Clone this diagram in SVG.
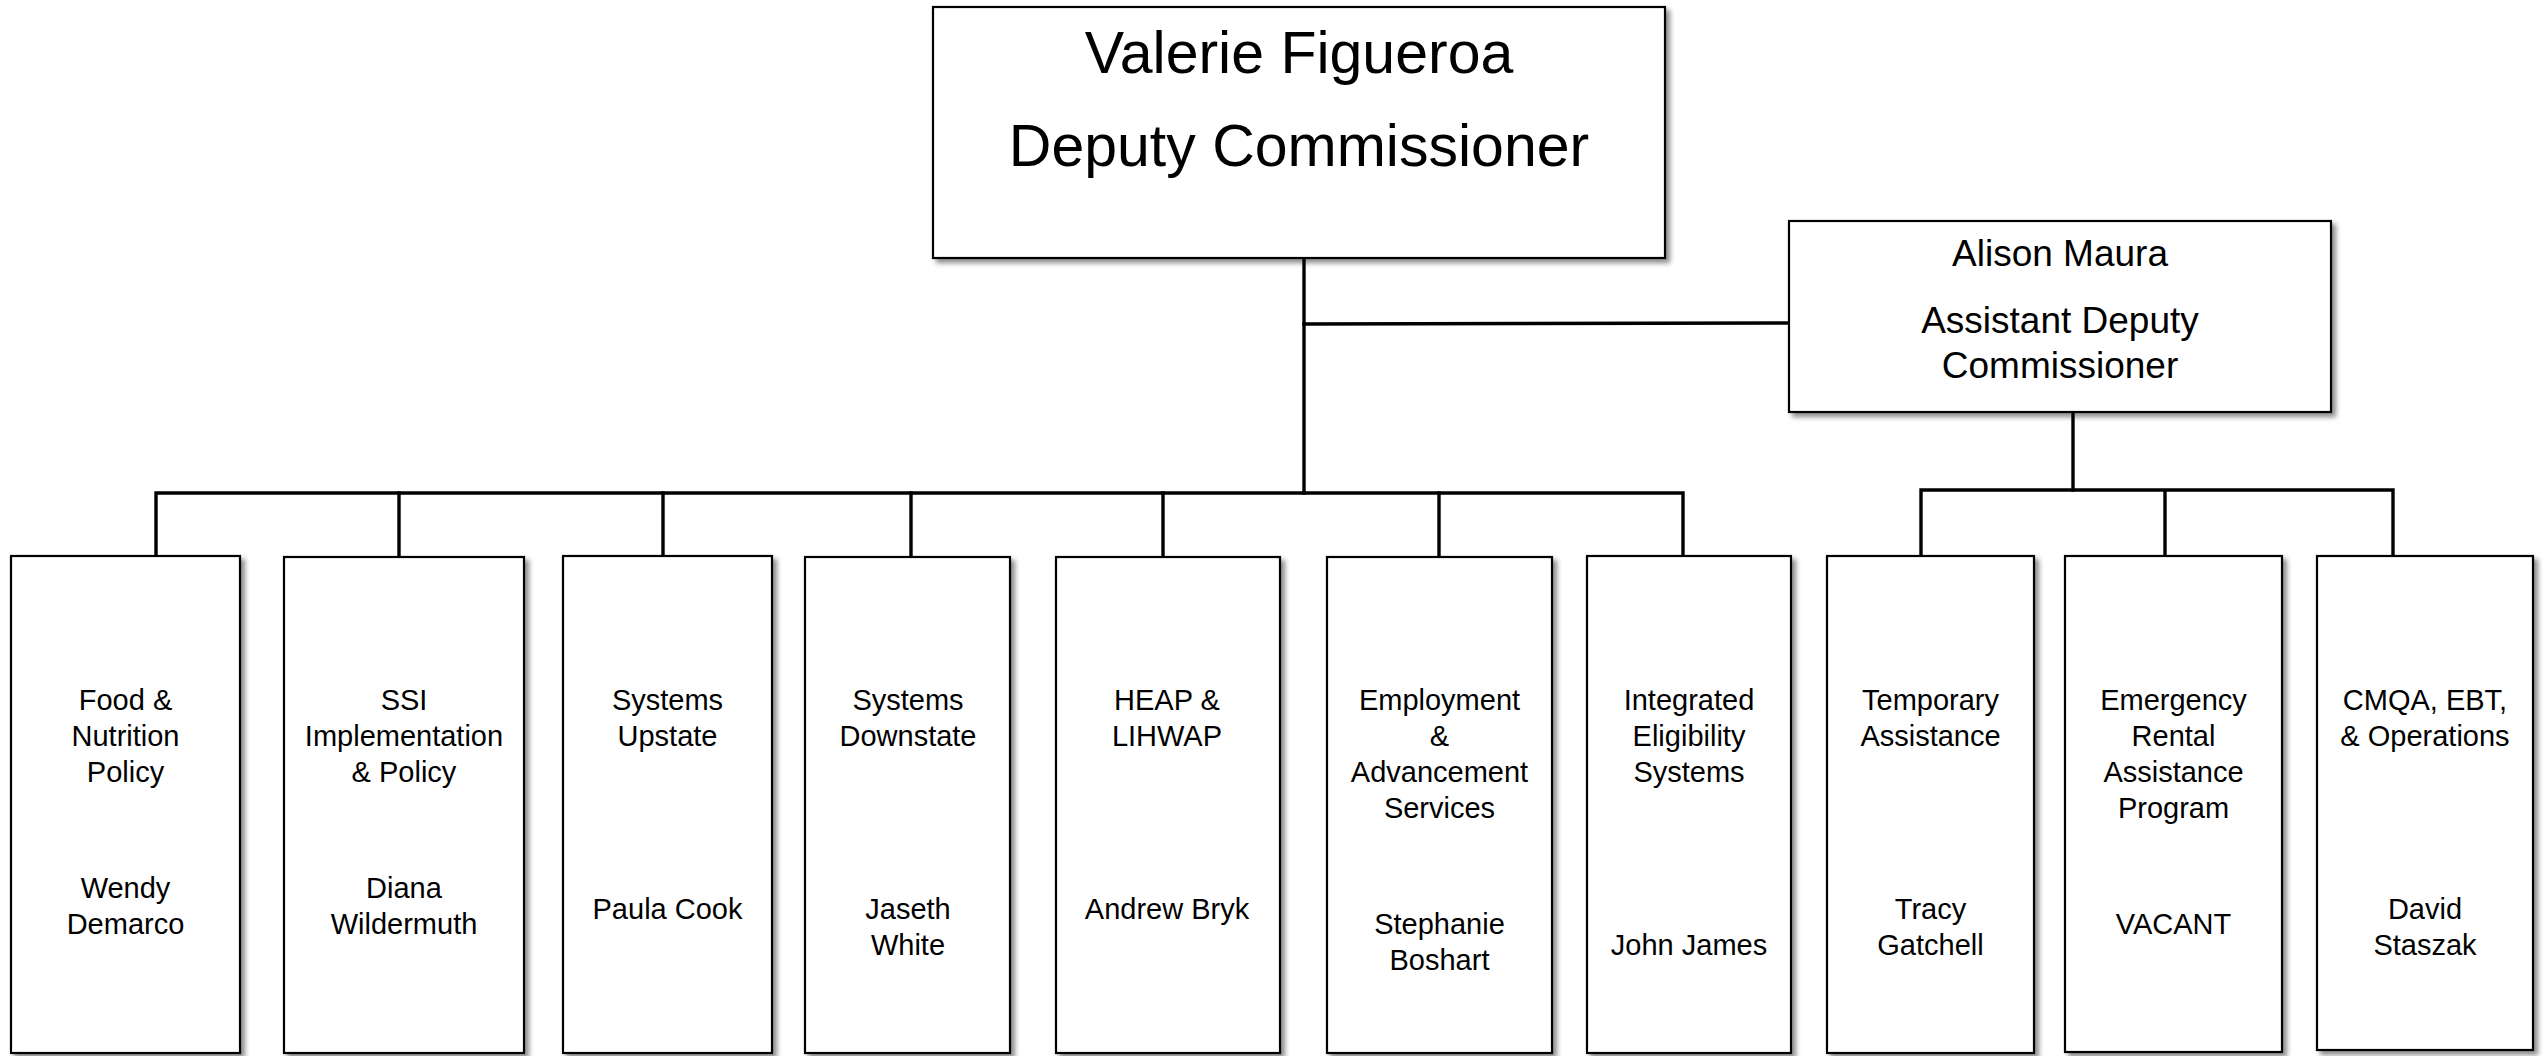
<svg xmlns="http://www.w3.org/2000/svg" width="2543" height="1056" viewBox="0 0 2543 1056">
<defs>
<filter id="sh" x="-10%" y="-10%" width="130%" height="130%">
<feDropShadow dx="4" dy="4" stdDeviation="2.5" flood-color="#000" flood-opacity="0.45"/>
</filter>
</defs>
<style>
.box{fill:#fff;stroke:#000;stroke-width:2.2;filter:url(#sh)}
.ln{fill:none;stroke:#000;stroke-width:3.4;stroke-linecap:square}
text{font-family:"Liberation Sans",Arial,sans-serif;fill:#000;text-anchor:middle}
.t1{font-size:59px}
.t2{font-size:37px}
.t3{font-size:29px}
</style>
<rect width="2543" height="1056" fill="#fff"/>
<g id="connectors">
<path class="ln" d="M1304,258 V493"/>
<path class="ln" d="M1304,324 L1789,323"/>
<path class="ln" d="M156,556 V493 H1683 V556"/>
<path class="ln" d="M399,493 V556 M663,493 V556 M911,493 V556 M1163,493 V556 M1439,493 V556"/>
<path class="ln" d="M2073,412 V490"/>
<path class="ln" d="M1921,556 V490 H2393 V556 M2165,490 V556"/>
</g>
<g id="valerie">
<rect class="box" x="933" y="7" width="732" height="251"/>
<text class="t1" x="1299" y="73">Valerie Figueroa</text>
<text class="t1" x="1299" y="166">Deputy Commissioner</text>
</g>
<g id="alison">
<rect class="box" x="1789" y="221" width="542" height="191"/>
<text class="t2" x="2060" y="266">Alison Maura</text>
<text class="t2" x="2060" y="333">Assistant Deputy</text>
<text class="t2" x="2060" y="378">Commissioner</text>
</g>
<g id="food">
<rect class="box" x="11" y="556" width="229" height="497"/>
<text class="t3" x="125.5" y="710">Food &amp;</text>
<text class="t3" x="125.5" y="746">Nutrition</text>
<text class="t3" x="125.5" y="782">Policy</text>
<text class="t3" x="125.5" y="898">Wendy</text>
<text class="t3" x="125.5" y="934">Demarco</text>
</g>
<g id="ssi">
<rect class="box" x="284" y="557" width="240" height="496"/>
<text class="t3" x="404" y="710">SSI</text>
<text class="t3" x="404" y="746">Implementation</text>
<text class="t3" x="404" y="782">&amp; Policy</text>
<text class="t3" x="404" y="898">Diana</text>
<text class="t3" x="404" y="934">Wildermuth</text>
</g>
<g id="upstate">
<rect class="box" x="563" y="556" width="209" height="497"/>
<text class="t3" x="667.5" y="710">Systems</text>
<text class="t3" x="667.5" y="746">Upstate</text>
<text class="t3" x="667.5" y="919">Paula Cook</text>
</g>
<g id="downstate">
<rect class="box" x="805" y="557" width="205" height="496"/>
<text class="t3" x="908" y="710">Systems</text>
<text class="t3" x="908" y="746">Downstate</text>
<text class="t3" x="908" y="919">Jaseth</text>
<text class="t3" x="908" y="955">White</text>
</g>
<g id="heap">
<rect class="box" x="1056" y="557" width="224" height="496"/>
<text class="t3" x="1167" y="710">HEAP &amp;</text>
<text class="t3" x="1167" y="746">LIHWAP</text>
<text class="t3" x="1167" y="919">Andrew Bryk</text>
</g>
<g id="employment">
<rect class="box" x="1327" y="557" width="225" height="496"/>
<text class="t3" x="1439.5" y="710">Employment</text>
<text class="t3" x="1439.5" y="746">&amp;</text>
<text class="t3" x="1439.5" y="782">Advancement</text>
<text class="t3" x="1439.5" y="818">Services</text>
<text class="t3" x="1439.5" y="934">Stephanie</text>
<text class="t3" x="1439.5" y="970">Boshart</text>
</g>
<g id="integrated">
<rect class="box" x="1587" y="556" width="204" height="497"/>
<text class="t3" x="1689" y="710">Integrated</text>
<text class="t3" x="1689" y="746">Eligibility</text>
<text class="t3" x="1689" y="782">Systems</text>
<text class="t3" x="1689" y="955">John James</text>
</g>
<g id="temporary">
<rect class="box" x="1827" y="556" width="207" height="497"/>
<text class="t3" x="1930.5" y="710">Temporary</text>
<text class="t3" x="1930.5" y="746">Assistance</text>
<text class="t3" x="1930.5" y="919">Tracy</text>
<text class="t3" x="1930.5" y="955">Gatchell</text>
</g>
<g id="erap">
<rect class="box" x="2065" y="556" width="217" height="496"/>
<text class="t3" x="2173.5" y="710">Emergency</text>
<text class="t3" x="2173.5" y="746">Rental</text>
<text class="t3" x="2173.5" y="782">Assistance</text>
<text class="t3" x="2173.5" y="818">Program</text>
<text class="t3" x="2173.5" y="934">VACANT</text>
</g>
<g id="cmqa">
<rect class="box" x="2317" y="556" width="216" height="494"/>
<text class="t3" x="2425" y="710">CMQA, EBT,</text>
<text class="t3" x="2425" y="746">&amp; Operations</text>
<text class="t3" x="2425" y="919">David</text>
<text class="t3" x="2425" y="955">Staszak</text>
</g>
</svg>
